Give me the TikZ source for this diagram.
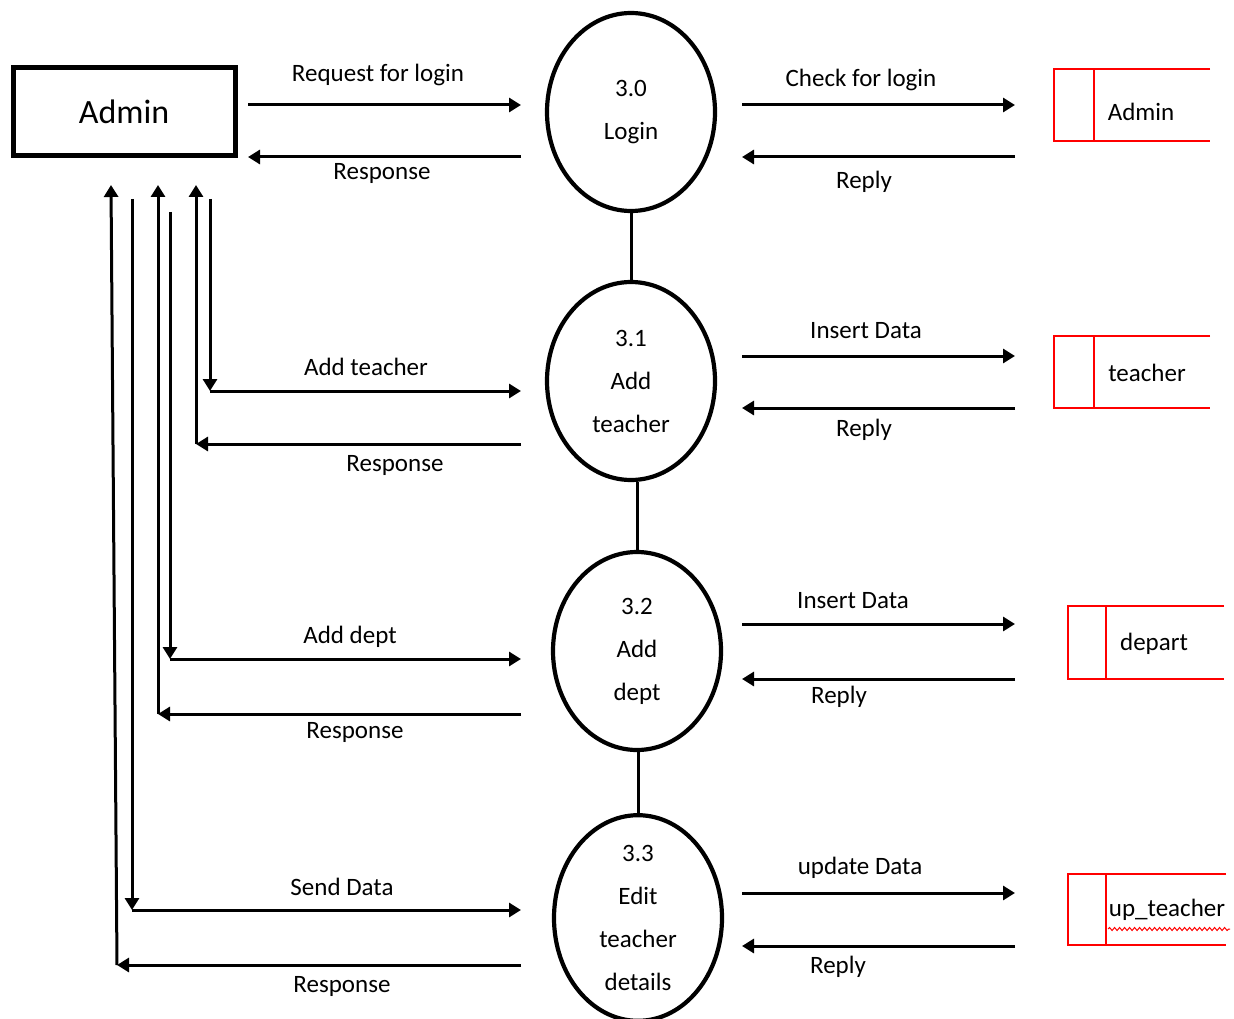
\documentclass[tikz,border=0pt]{standalone}
\usepackage{fontspec}
\setmainfont{Carlito}
\usetikzlibrary{arrows.meta,shapes.geometric,decorations.pathmorphing}

\tikzset{
  flow/.style={line width=3pt,-{Triangle[length=12pt,width=14pt]}},
  plain/.style={line width=3pt},
  lbl/.style={font=\fontsize{25}{30}\selectfont,inner sep=0pt},
  proc/.style={ellipse,draw,line width=4.2pt,minimum width=168pt,minimum height=198pt,
    align=center,font=\fontsize{25}{43}\selectfont,inner sep=0pt},
  store/.style={draw=red,line width=2.2pt},
  storetext/.style={font=\fontsize{25}{30}\selectfont,inner sep=0pt},
}

\begin{document}
\begin{tikzpicture}[x=1pt,y=-1pt]
\useasboundingbox (0,0) rectangle (1234,1019);

% external entity
\node[draw,line width=5pt,minimum width=222pt,minimum height=88pt,
  font=\fontsize{34}{40}\selectfont] (admin) at (124,112) {Admin};

% processes
\node[proc] (p0) at (631,112) {3.0\\Login};
\node[proc] (p1) at (631,381) {3.1\\Add\\teacher};
\node[proc] (p2) at (637,651) {3.2\\Add\\dept};
\node[proc] (p3) at (638,918) {3.3\\Edit\\teacher\\details};

\draw[plain] (p0.south) -- (p0.south |- p1.north);
\draw[plain] (p2.north |- p1.south) -- (p2.north);
\draw[plain] (p3.north |- p2.south) -- (p3.north);

% data stores
\draw[store] (1210,69) -- (1054,69) -- (1054,141) -- (1210,141);
\draw[store] (1094,69) -- (1094,141);
\node[storetext] (dsadmin) at (1141,112) {Admin};

\draw[store] (1210,336) -- (1054,336) -- (1054,408) -- (1210,408);
\draw[store] (1094,336) -- (1094,408);
\node[storetext] (dsteacher) at (1147,373) {teacher};

\draw[store] (1224,606) -- (1068,606) -- (1068,679) -- (1224,679);
\draw[store] (1106,606) -- (1106,679);
\node[storetext] (dsdepart) at (1154,644) {depart};

\draw[store] (1226,874) -- (1068,874) -- (1068,945) -- (1226,945);
\draw[store] (1106,874) -- (1106,945);
\node[storetext] (dsup) at (1167,910) {up\_teacher};
\draw[red,line width=1pt,decorate,decoration={snake,amplitude=1.5pt,segment length=5pt}]
  (1108,929) -- (1230,929);

% coordinates on the left side
\coordinate (rqA) at (248,105);  \coordinate (rqB) at (521,105);
\coordinate (rsA) at (521,157);  \coordinate (rsB) at (248,157);

\coordinate (atTop) at (210,199); \coordinate (atCorner) at (210,391); \coordinate (atEnd) at (521,391);
\coordinate (arStart) at (521,444); \coordinate (arCorner) at (196,444); \coordinate (arTip) at (196,185);

\coordinate (adTop) at (170,212); \coordinate (adCorner) at (170,659); \coordinate (adEnd) at (521,659);
\coordinate (drStart) at (521,714); \coordinate (drCorner) at (158,714); \coordinate (drTip) at (158,185);

\coordinate (sdTop) at (132,199); \coordinate (sdCorner) at (132,910); \coordinate (sdEnd) at (521,910);
\coordinate (erStart) at (521,965); \coordinate (erCorner) at (117,965); \coordinate (erTip) at (111,185);

% flows between admin and processes
\draw[flow] (rqA) -- (rqB);
\draw[flow] (rsA) -- (rsB);
\node[lbl] at (378,75) {Request for login};
\node[lbl] at (382,173) {Response};

\draw[flow] (atTop) -- (atCorner);
\draw[flow] (atCorner) -- (atEnd);
\draw[flow] (arStart) -- (arCorner);
\draw[flow] (arCorner) -- (arTip);
\node[lbl] at (366,367) {Add teacher};
\node[lbl] at (395,465) {Response};

\draw[flow] (adTop) -- (adCorner);
\draw[flow] (adCorner) -- (adEnd);
\draw[flow] (drStart) -- (drCorner);
\draw[flow] (drCorner) -- (drTip);
\node[lbl] at (350,637) {Add dept};
\node[lbl] at (355,732) {Response};

\draw[flow] (sdTop) -- (sdCorner);
\draw[flow] (sdCorner) -- (sdEnd);
\draw[flow] (erStart) -- (erCorner);
\draw[flow] (erCorner) -- (erTip);
\node[lbl] at (342,887) {Send Data};
\node[lbl] at (342,986) {Response};

% flows between processes and data stores
\coordinate (c0a) at (742,105);  \coordinate (c0b) at (1015,105);
\coordinate (c0c) at (1015,157); \coordinate (c0d) at (742,157);
\draw[flow] (c0a) -- (c0b);
\draw[flow] (c0c) -- (c0d);
\node[lbl] at (861,80) {Check for login};
\node[lbl] at (864,182) {Reply};

\coordinate (c1a) at (742,356);  \coordinate (c1b) at (1015,356);
\coordinate (c1c) at (1015,408); \coordinate (c1d) at (742,408);
\draw[flow] (c1a) -- (c1b);
\draw[flow] (c1c) -- (c1d);
\node[lbl] at (866,331) {Insert Data};
\node[lbl] at (864,430) {Reply};

\coordinate (c2a) at (742,624);  \coordinate (c2b) at (1015,624);
\coordinate (c2c) at (1015,679); \coordinate (c2d) at (742,679);
\draw[flow] (c2a) -- (c2b);
\draw[flow] (c2c) -- (c2d);
\node[lbl] at (853,601) {Insert Data};
\node[lbl] at (839,697) {Reply};

\coordinate (c3a) at (742,893);  \coordinate (c3b) at (1015,893);
\coordinate (c3c) at (1015,946); \coordinate (c3d) at (742,946);
\draw[flow] (c3a) -- (c3b);
\draw[flow] (c3c) -- (c3d);
\node[lbl] at (860,868) {update Data};
\node[lbl] at (838,967) {Reply};
\end{tikzpicture}
\end{document}
